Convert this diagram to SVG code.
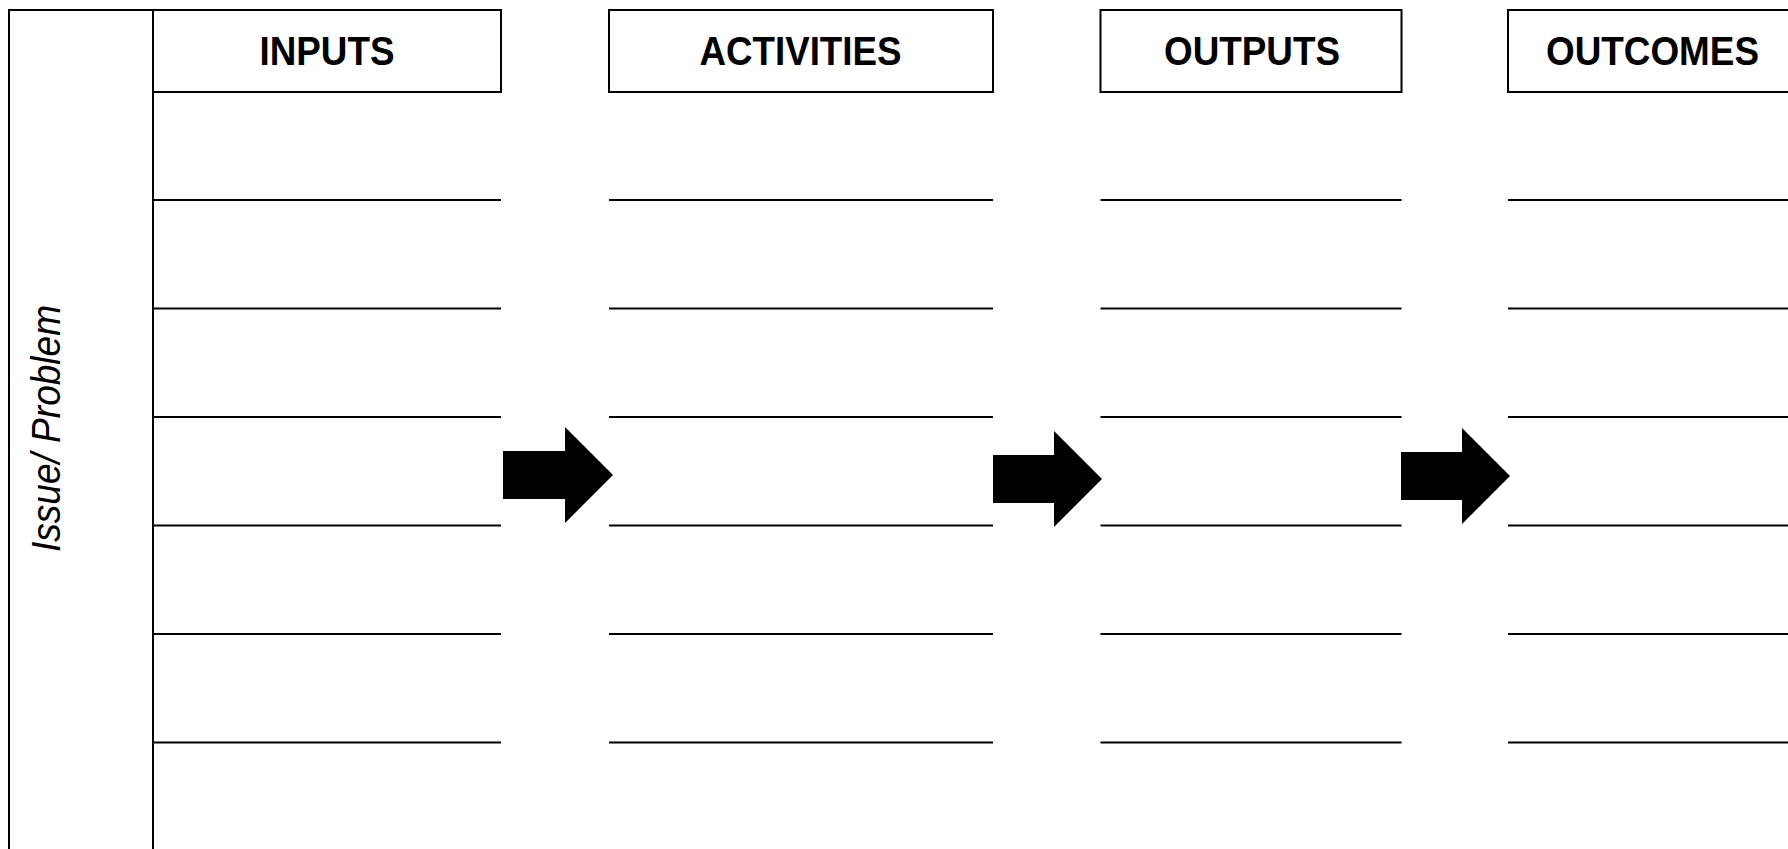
<svg xmlns="http://www.w3.org/2000/svg" width="1788" height="849" viewBox="0 0 1788 849">
<style>
.ln{stroke:#000;stroke-width:2;fill:none}
.box{stroke:#000;stroke-width:2;fill:#fff}
.hd{font-family:"Liberation Sans",Arial,Helvetica,sans-serif;font-weight:bold;font-size:41px;fill:#000}
.side{font-family:"Liberation Sans",Arial,Helvetica,sans-serif;font-style:italic;font-size:40px;fill:#000}
.arrow{fill:#000;stroke:none}
</style>
<rect x="0" y="0" width="1788" height="849" fill="#fff"/>
<g id="issue-problem">
<path class="ln" d="M9,849 V10 H153 M153,10 V849"/>
<text class="side" transform="translate(60,428.5) rotate(-90)" x="-123.5" y="0" textLength="247" lengthAdjust="spacingAndGlyphs">Issue/ Problem</text>
</g>
<g id="inputs">
<rect class="box" x="153" y="10" width="348" height="82"/>
<text class="hd" x="259.5" y="64.5" textLength="135" lengthAdjust="spacingAndGlyphs">INPUTS</text>
<path class="ln" d="M153,200H501M153,308.5H501M153,417H501M153,525.5H501M153,634H501M153,742.5H501"/>
</g>
<g id="activities">
<rect class="box" x="609" y="10" width="384" height="82"/>
<text class="hd" x="699.5" y="64.5" textLength="202" lengthAdjust="spacingAndGlyphs">ACTIVITIES</text>
<path class="ln" d="M609,200H993M609,308.5H993M609,417H993M609,525.5H993M609,634H993M609,742.5H993"/>
</g>
<g id="outputs">
<rect class="box" x="1100.5" y="10" width="301" height="82"/>
<text class="hd" x="1164" y="64.5" textLength="176" lengthAdjust="spacingAndGlyphs">OUTPUTS</text>
<path class="ln" d="M1100.5,200H1401.5M1100.5,308.5H1401.5M1100.5,417H1401.5M1100.5,525.5H1401.5M1100.5,634H1401.5M1100.5,742.5H1401.5"/>
</g>
<g id="outcomes">
<rect class="box" x="1508" y="10" width="292" height="82"/>
<text class="hd" x="1546" y="64.5" textLength="213" lengthAdjust="spacingAndGlyphs">OUTCOMES</text>
<path class="ln" d="M1508,200H1788M1508,308.5H1788M1508,417H1788M1508,525.5H1788M1508,634H1788M1508,742.5H1788"/>
</g>
<g id="connectors">
<polygon class="arrow" points="503,451 565,451 565,427 613,475 565,523 565,499 503,499"/>
<polygon class="arrow" points="993,455 1054,455 1054,431 1102,479 1054,527 1054,503 993,503"/>
<polygon class="arrow" points="1401,452 1462,452 1462,428 1510,476 1462,524 1462,500 1401,500"/>
</g>
</svg>
